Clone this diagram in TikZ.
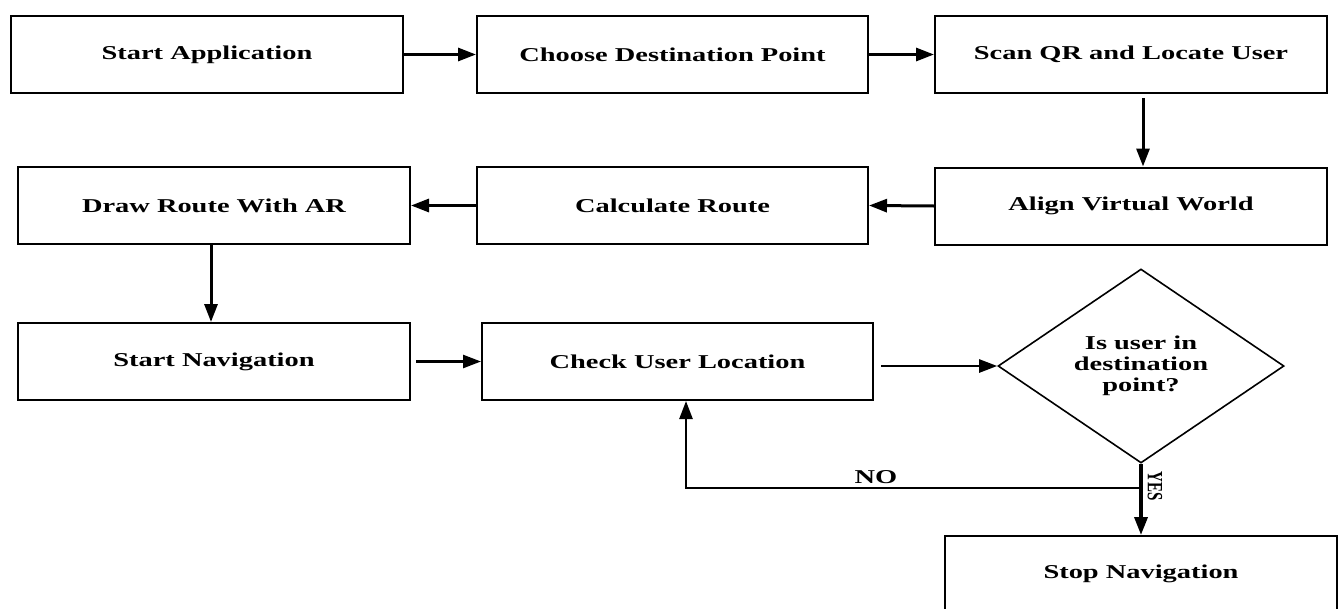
\documentclass[tikz,border=0pt]{standalone}
\usepackage{fontspec}
\setmainfont{Liberation Serif}[FakeStretch=1.45]
\newfontfamily\plainserif{Liberation Serif}
\usetikzlibrary{arrows.meta,shapes.geometric}
\tikzset{
  stepbox/.style={draw, line width=2pt, minimum width=392pt, minimum height=77pt, inner sep=0pt,
    font=\fontsize{19.6}{21}\selectfont\bfseries},
  decision/.style={draw, diamond, line width=1.6pt, minimum width=286pt, minimum height=190pt, inner sep=0pt,
    align=center, font=\fontsize{19.6}{21}\selectfont\bfseries},
  flow/.style={line width=3pt, -{Triangle[length=18pt,width=13pt]}},
  lbl/.style={font=\fontsize{19.6}{21}\selectfont\bfseries, inner sep=0pt}
}
\begin{document}
\begin{tikzpicture}[x=1pt,y=-1pt]
\useasboundingbox[fill=white] (0,0) rectangle (1338,608);
% row 1
\node[stepbox] (A) at (207,54.5) {Start Application};
\node[stepbox, minimum width=391pt] (B) at (672.5,54.5) {Choose Destination Point};
\node[stepbox] (C) at (1131,54.5) {Scan QR and Locate User};
% row 2
\node[stepbox] (D) at (214,205.5) {Draw Route With AR};
\node[stepbox, minimum width=391pt] (E) at (672.5,205.5) {Calculate Route};
\node[stepbox] (F) at (1131,206) {Align Virtual World};
% row 3
\node[stepbox] (G) at (214,361.5) {Start Navigation};
\node[stepbox, minimum width=391pt] (H) at (677.5,361.5) {Check User Location};
\node[decision] (Q) at (1141,366) {Is user in\\destination\\point?};
% stop
\node[stepbox, minimum height=76pt, anchor=north] (S) at (1141,535) {Stop Navigation};
% connectors
\draw[flow] (A.east) -- (B.west);
\draw[flow] (B.east) -- (C.west);
\draw[flow, shorten <=4pt] ([xshift=12pt]C.south) -- ([xshift=12pt]F.north);
\draw[flow] (F.west) -- (E.east);
\draw[flow] (E.west) -- (D.east);
\draw[flow] ([xshift=-3pt]D.south) -- ([xshift=-3pt]G.north);
\draw[flow, line width=2.5pt, shorten <=5pt] (G.east) -- (H.west);
\draw[flow, line width=2.5pt, shorten <=7pt] (H.east |- Q.west) -- (Q.west);
\draw[flow, line width=3.5pt] (Q.south) -- (S.north);
\coordinate (turn) at (1141,488);
\draw[flow, line width=2.5pt] (Q.south) -- (turn) -| ([xshift=8.5pt]H.south);
% labels
\node[lbl] (no) at (876,477) {NO};
\node[inner sep=0pt] (yes) at (1155,486) {\scalebox{1.45}[1]{\rotatebox{-90}{\fontsize{15}{17}\selectfont\plainserif\bfseries YES}}};
\end{tikzpicture}
\end{document}
